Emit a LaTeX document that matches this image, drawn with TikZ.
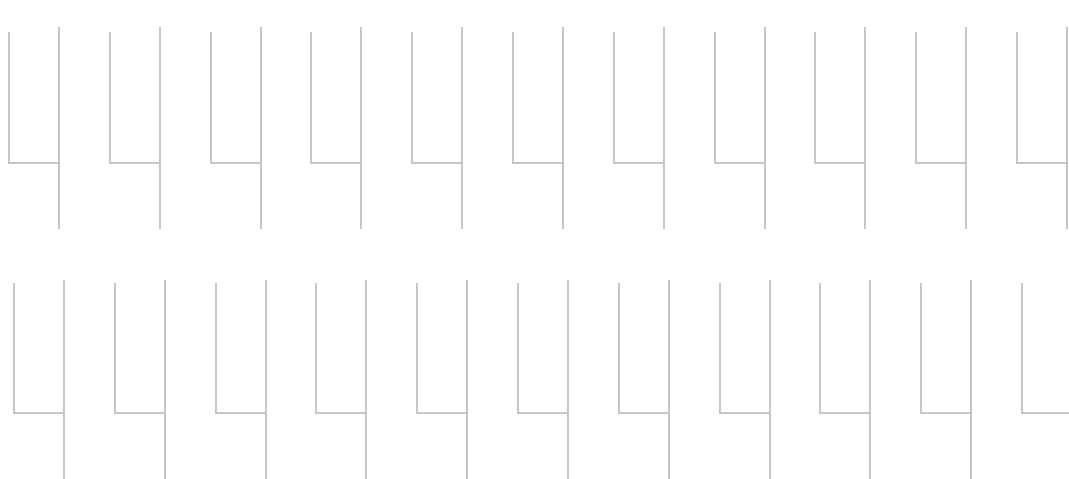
\documentclass[tikz,border=0pt]{standalone}
\usepackage{tikz}

\begin{document}
\begin{tikzpicture}[x=0.02cm, y=-0.02cm, line join=miter, wire/.style={draw=gray!45, line width=1.1pt}]

    \useasboundingbox (0,0) rectangle (1069,478);

    \foreach \i in {0,...,10} {
        \pgfmathsetmacro{\xa}{9+100.8*\i}
        \draw[wire] (\xa,32) -- (\xa,163) -- (\xa+51,163);
        \draw[wire] (\xa+50,27) -- (\xa+50,229);
        \draw[wire] (\xa+5,283) -- (\xa+5,413) -- (\xa+56,413);
        \draw[wire] (\xa+55,280) -- (\xa+55,482);
    }

\end{tikzpicture}
\end{document}
